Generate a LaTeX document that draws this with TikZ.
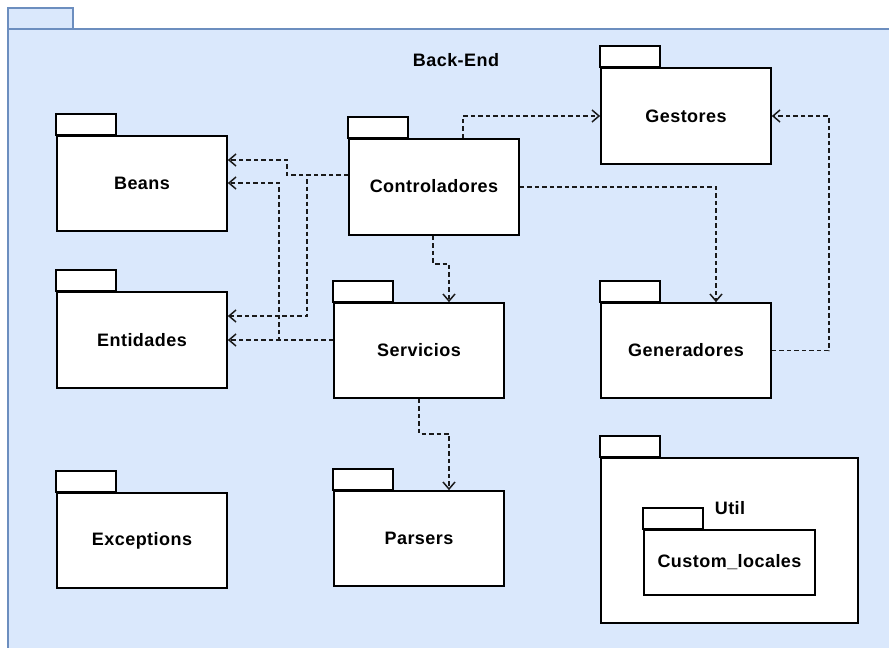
\documentclass[tikz,border=0pt]{standalone}
\usepackage{fontspec}
\setmainfont{Liberation Sans}
\usetikzlibrary{arrows.meta}
\definecolor{frameFill}{HTML}{DAE8FC}
\definecolor{frameLine}{HTML}{6C8EBF}
\definecolor{depLine}{HTML}{1A1A1A}
\newcommand{\pkgfont}{\fontsize{18}{20}\selectfont\bfseries\addfontfeature{LetterSpace=2.5}}
\tikzset{
  pkgbody/.style={draw=black, fill=white, line width=1.7pt, rectangle,
    inner sep=0pt, font=\pkgfont},
  pkgtab/.style={draw=black, fill=white, line width=1.7pt},
  dep/.style={draw=depLine, line width=1.6pt, dash pattern=on 4.5pt off 3pt,
    -{Straight Barb[length=7pt,width=12pt,line width=1.5pt]}},
  title/.style={font=\pkgfont, inner sep=0pt}
}
\begin{document}
\begin{tikzpicture}[x=1pt,y=-1pt]
  \clip (0,0) rectangle (889,648);
  \fill[white] (0,0) rectangle (889,648);

  % Back-End frame (runs past the page edges)
  \draw[fill=frameFill, draw=frameLine, line width=1.6pt] (8,8) rectangle (73,29);
  \draw[fill=frameFill, draw=frameLine, line width=1.6pt] (8,29) rectangle (910,670);
  \node[title] (backend) at (456,60) {Back-End};

  % packages
  \node[pkgbody, minimum width=170pt, minimum height=95pt] (beans) at (142,183.5) {Beans};
  \node[pkgbody, minimum width=170pt, minimum height=96pt] (ent) at (142,340) {Entidades};
  \node[pkgbody, minimum width=170pt, minimum height=95pt] (exc) at (142,540.5) {Exceptions};
  \node[pkgbody, minimum width=170pt, minimum height=96pt] (ctrl) at (434,187) {\raisebox{3pt}{Controladores}};
  \node[pkgbody, minimum width=170pt, minimum height=96pt] (gest) at (686,116) {Gestores};
  \node[pkgbody, minimum width=170pt, minimum height=95pt] (serv) at (419,350.5) {Servicios};
  \node[pkgbody, minimum width=170pt, minimum height=95pt] (gen) at (686,350.5) {Generadores};
  \node[pkgbody, minimum width=170pt, minimum height=95pt] (pars) at (419,538.5) {Parsers};
  \node[pkgbody, minimum width=257pt, minimum height=165pt] (util) at (729.5,540.5) {};
  \node[pkgbody, minimum width=171pt, minimum height=65pt] (custom) at (729.5,562.5) {Custom\_locales};
  \node[title] (utillabel) at (730,508) {Util};

  % package tabs
  \foreach \p in {beans,ent,exc,ctrl,gest,serv,gen,pars,util,custom}
    \draw[pkgtab] (\p.north west) rectangle ++(60,-21);

  % dependencies
  \draw[dep] ([yshift=12pt]ctrl.west) -- ++(-61,0) |- ([yshift=23.5pt]beans.east);
  \draw[dep] ([yshift=12pt]ctrl.west) -- ++(-41,0) |- ([yshift=24pt]ent.east);
  \draw[dep] ([yshift=10.5pt]serv.west) -- ++(-54,0) |- ([yshift=0.5pt]beans.east);
  \draw[dep] ([yshift=10.5pt]serv.west) -- (ent.east);
  \draw[dep] ([xshift=29pt]ctrl.north) |- (gest.west);
  \draw[dep] (ctrl.east) -| ([xshift=30pt]gen.north);
  \draw[dep] (gen.east) -- ++(57,0) |- (gest.east);
  \draw[dep] ([xshift=-1pt]ctrl.south) -- ++(0,28) -| ([xshift=30pt]serv.north);
  \draw[dep] (serv.south) -- ++(0,35) -| ([xshift=30pt]pars.north);
\end{tikzpicture}
\end{document}
